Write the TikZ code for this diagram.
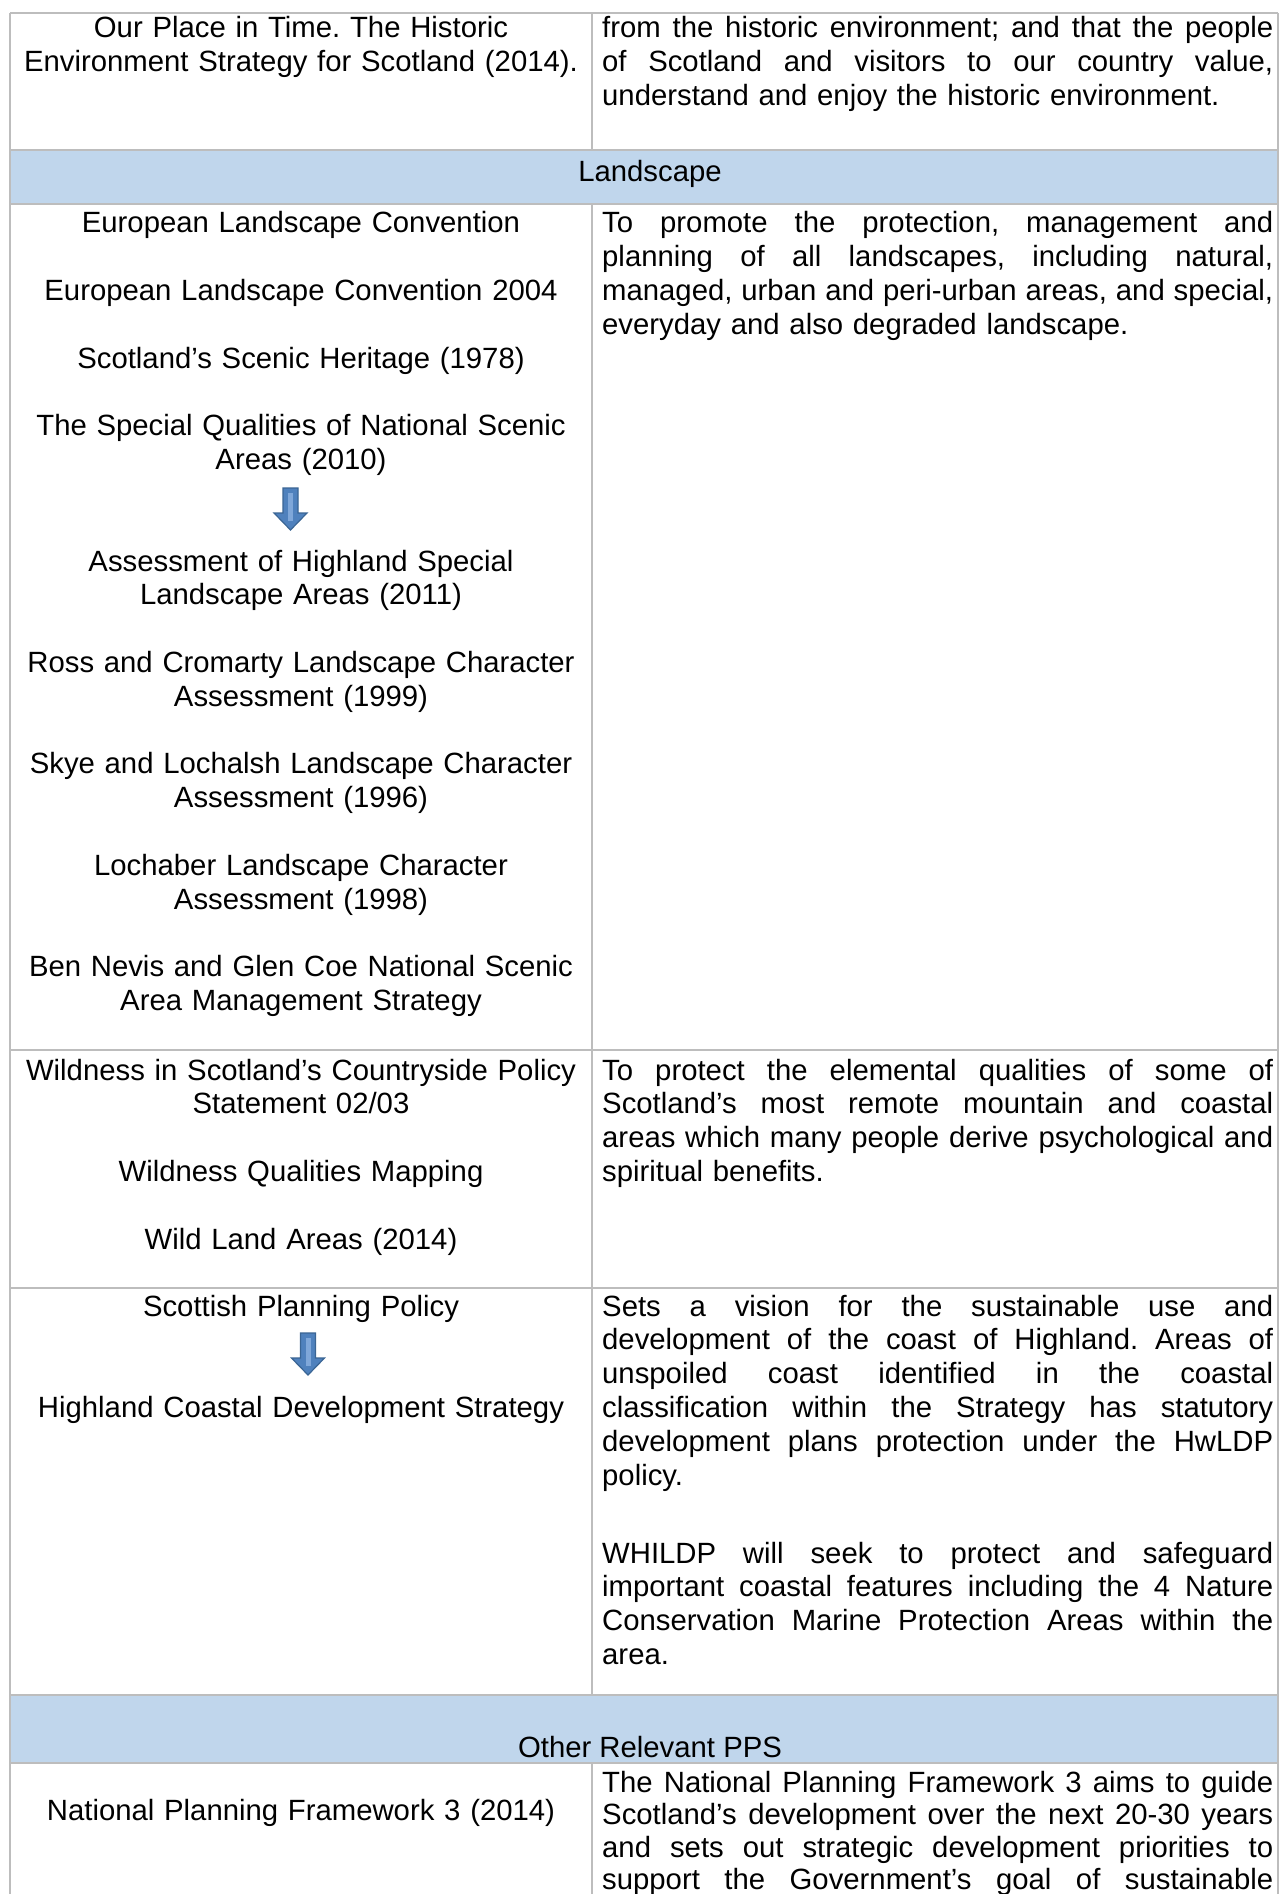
\documentclass[tikz,border=0pt]{standalone}
\usepackage{fontspec}
\setmainfont{Liberation Sans}
\definecolor{band}{HTML}{C0D6EC}
\definecolor{rulec}{HTML}{BDBDBD}
\definecolor{arrowfill}{HTML}{4F81BD}
\definecolor{arrowline}{HTML}{3A6594}
\definecolor{arrowlight}{HTML}{7FA7D9}
\newcommand{\jl}[1]{\leavevmode\hbox to 671pt{\spaceskip=\fontdimen2\font plus 1fil\relax\xspaceskip=\spaceskip #1}}
\newcommand{\dnarrow}[4]{%
  \filldraw[fill=arrowfill, draw=arrowline, line width=1.2pt, line join=miter]
    (#1-7.5,#2) -- (#1+7.5,#2) -- (#1+7.5,#3) -- (#1+16.5,#3) -- (#1,#4) -- (#1-16.5,#3) -- (#1-7.5,#3) -- cycle;
  \fill[arrowlight] (#1-2.5,#2+5) rectangle (#1+2.5,#3+8);
}
\begin{document}
\frenchspacing
\begin{tikzpicture}[x=1pt,y=-1pt,
  txt/.style={font=\fontsize{29.3}{33.8}\selectfont\frenchspacing, inner sep=0pt},
  leftcell/.style={txt, anchor=base, text width=570pt, align=center},
  rightcell/.style={txt, anchor=base west, text width=671pt, align=left},
  bandlabel/.style={txt, anchor=base},
  hrule/.style={draw=rulec, line width=2.2pt},
  vrule/.style={draw=rulec, line width=1.4pt}]
\useasboundingbox (0,0) rectangle (1280,1894);
\fill[white] (0,0) rectangle (1280,1894);
% bands
\fill[band] (10,150) rectangle (1278,204);
\fill[band] (10,1695) rectangle (1278,1763);
% rules
\foreach \yy in {13,150,204,1050,1288,1695,1763} { \draw[hrule] (10,\yy) -- (1278,\yy); }
\draw[vrule] (10,13) -- (10,1894);
\draw[vrule] (1278,13) -- (1278,1894);
\draw[vrule] (592,13) -- (592,150);
\draw[vrule] (592,204) -- (592,1695);
\draw[vrule] (592,1763) -- (592,1894);

% row 1
\node[leftcell] (r1l) at (301,38) {Our Place in Time. The Historic\\Environment Strategy for Scotland (2014).};
\node[rightcell] (r1r) at (602,38) {\jl{from the historic environment; and that the people}\\\jl{of Scotland and visitors to our country value,}\\understand and enjoy the historic environment.};

% Landscape band
\node[bandlabel] (landscape) at (650,182) {Landscape};

% Landscape row
\node[leftcell] (landA) at (301,233) {European Landscape Convention\\[33.8pt]European Landscape Convention 2004\\[33.8pt]Scotland’s Scenic Heritage (1978)\\[33.8pt]The Special Qualities of National Scenic\\Areas (2010)};
\node[leftcell] (landB) at (301,571) {Assessment of Highland Special\\Landscape Areas (2011)\\[33.8pt]Ross and Cromarty Landscape Character\\Assessment (1999)\\[33.8pt]Skye and Lochalsh Landscape Character\\Assessment (1996)\\[33.8pt]Lochaber Landscape Character\\Assessment (1998)\\[33.8pt]Ben Nevis and Glen Coe National Scenic\\Area Management Strategy};
\dnarrow{290.5}{488}{513}{530}
\node[rightcell] (landR) at (602,233) {\jl{To promote the protection, management and}\\\jl{planning of all landscapes, including natural,}\\\jl{managed, urban and peri-urban areas, and special,}\\everyday and also degraded landscape.};

% Wildness row
\node[leftcell] (wildL) at (301,1080) {Wildness in Scotland’s Countryside Policy\\Statement 02/03\\[33.8pt]Wildness Qualities Mapping\\[33.8pt]Wild Land Areas (2014)};
\node[rightcell] (wildR) at (602,1080) {\jl{To protect the elemental qualities of some of}\\\jl{Scotland’s most remote mountain and coastal}\\\jl{areas which many people derive psychological and}\\spiritual benefits.};

% Scottish Planning row
\node[leftcell] (spp) at (301,1316) {Scottish Planning Policy};
\node[leftcell] (hcds) at (301,1417) {Highland Coastal Development Strategy};
\dnarrow{308}{1333}{1358}{1375}
\node[rightcell] (sppR) at (602,1316) {\jl{Sets a vision for the sustainable use and}\\\jl{development of the coast of Highland. Areas of}\\\jl{unspoiled coast identified in the coastal}\\\jl{classification within the Strategy has statutory}\\\jl{development plans protection under the HwLDP}\\policy.};
\node[rightcell] (whildp) at (602,1563) {\jl{WHILDP will seek to protect and safeguard}\\\jl{important coastal features including the 4 Nature}\\\jl{Conservation Marine Protection Areas within the}\\area.};

% Other Relevant PPS band
\node[bandlabel] (pps) at (650,1757) {Other Relevant PPS};

% NPF row
\node[leftcell] (npfL) at (301,1820) {National Planning Framework 3 (2014)};
\node[rightcell, font=\fontsize{29.3}{32.5}\selectfont\frenchspacing] (npfR) at (602,1792) {\jl{The National Planning Framework 3 aims to guide}\\\jl{Scotland’s development over the next 20-30 years}\\\jl{and sets out strategic development priorities to}\\\jl{support the Government’s goal of sustainable}};
\end{tikzpicture}
\end{document}
